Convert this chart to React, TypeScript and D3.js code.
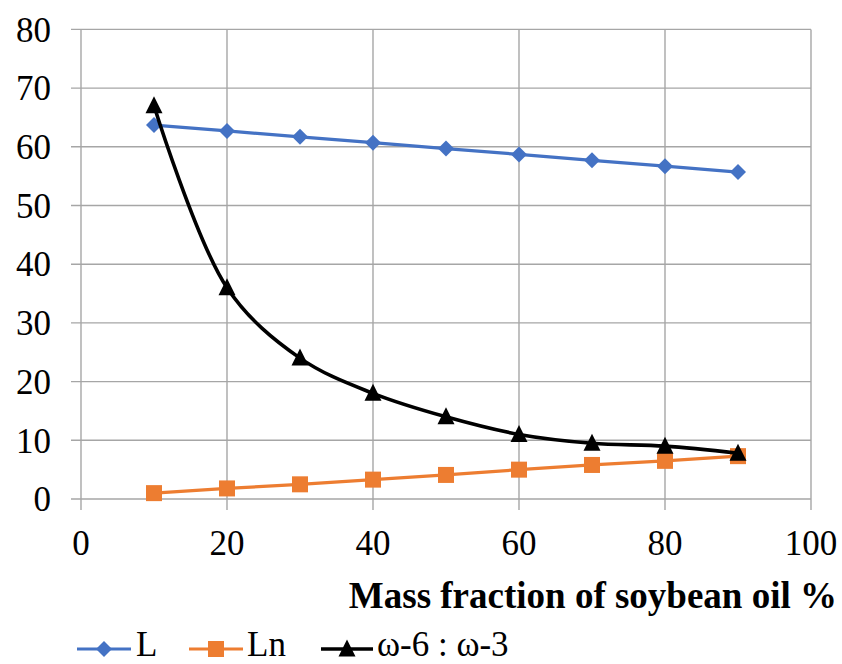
import React from "react";
import * as d3 from "d3";

const xValues = [10, 20, 30, 40, 50, 60, 70, 80, 90];
const seriesL = [63.7, 62.7, 61.7, 60.7, 59.7, 58.7, 57.7, 56.7, 55.7];
const seriesLn = [1.0, 1.8, 2.5, 3.3, 4.1, 5.0, 5.8, 6.5, 7.3];
const seriesRatio = [67, 36, 24, 18, 14, 11, 9.5, 9, 7.8];
const xTicks = [0, 20, 40, 60, 80, 100];
const yTicks = [0, 10, 20, 30, 40, 50, 60, 70, 80];
const legendNames = ["L", "Ln", "ω-6 : ω-3"];
const xTitle = "Mass fraction of soybean oil %";

const W = 842, H = 664;
const left = 81, right = 811, top = 29.4, bottom = 499;
const FONT = "Liberation Serif, Times New Roman, serif";
const BLUE = "#4472C4", ORANGE = "#ED7D31", BLACK = "#000000";

function Marker({ type, x, y, color }: { type: string; x: number; y: number; color: string }) {
  if (type === "diamond") {
    const s = 8;
    return <path d={`M${x},${y - s}L${x + s},${y}L${x},${y + s}L${x - s},${y}Z`} fill={color} />;
  }
  if (type === "square") {
    const s = 8;
    return <rect x={x - s} y={y - s} width={2 * s} height={2 * s} fill={color} />;
  }
  const s = 8.5;
  return <path d={`M${x},${y - s - 1}L${x + s},${y + s - 1}L${x - s},${y + s - 1}Z`} fill={color} />;
}

export default function App() {
  const x = d3.scaleLinear().domain([0, 100]).range([left, right]);
  const y = d3.scaleLinear().domain([0, 80]).range([bottom, top]);

  const straight = d3.line<number>().x((_, i) => x(xValues[i])).y((d) => y(d));
  const smooth = d3
    .line<number>()
    .x((_, i) => x(xValues[i]))
    .y((d) => y(d))
    .curve(d3.curveCatmullRom.alpha(0.5));

  const series = [
    { name: legendNames[0], data: seriesL, color: BLUE, marker: "diamond", path: straight, w: 3.2 },
    { name: legendNames[1], data: seriesLn, color: ORANGE, marker: "square", path: straight, w: 3.2 },
    { name: legendNames[2], data: seriesRatio, color: BLACK, marker: "triangle", path: smooth, w: 3.6 },
  ];

  const legendPos = [
    { x1: 77, x2: 131, tx: 136 },
    { x1: 189, x2: 243, tx: 247 },
    { x1: 321, x2: 373, tx: 377 },
  ];
  const ly = 649;

  return (
    <svg width={W} height={H} style={{ position: "absolute", left: 0, top: 0, background: "#fff", fontFamily: FONT }}>
      <rect width={W} height={H} fill="#fff" />
      <g stroke="#a6a6a6" strokeWidth={1.4}>
        {yTicks.map((t) => (
          <line key={"h" + t} x1={left - 10} x2={right} y1={y(t)} y2={y(t)} />
        ))}
        {xTicks.map((t) => (
          <line key={"v" + t} x1={x(t)} x2={x(t)} y1={top} y2={bottom + 11} />
        ))}
      </g>
      <g style={{ fontFamily: FONT, fontSize: "35px" }} fill="#000">
        {yTicks.map((t) => (
          <text key={"yl" + t} x={51} y={y(t)} dy="0.35em" textAnchor="end">
            {t}
          </text>
        ))}
        {xTicks.map((t) => (
          <text key={"xl" + t} x={x(t)} y={555} textAnchor="middle">
            {t}
          </text>
        ))}
        <text x={837} y={608} textAnchor="end" style={{ fontWeight: "bold", fontSize: "37px" }}>
          {xTitle}
        </text>
      </g>
      {series.map((s) => (
        <g key={s.name}>
          <path d={s.path(s.data) || ""} fill="none" stroke={s.color} strokeWidth={s.w} strokeLinejoin="round" />
          {s.data.map((v, i) => (
            <Marker key={i} type={s.marker} x={x(xValues[i])} y={y(v)} color={s.color} />
          ))}
        </g>
      ))}
      <g style={{ fontFamily: FONT, fontSize: "35px" }}>
        {series.map((s, i) => (
          <g key={"lg" + s.name}>
            <line x1={legendPos[i].x1} x2={legendPos[i].x2} y1={ly} y2={ly} stroke={s.color} strokeWidth={s.w} />
            <Marker type={s.marker} x={(legendPos[i].x1 + legendPos[i].x2) / 2} y={ly} color={s.color} />
            <text x={legendPos[i].tx} y={656} fill="#000">
              {s.name}
            </text>
          </g>
        ))}
      </g>
    </svg>
  );
}
